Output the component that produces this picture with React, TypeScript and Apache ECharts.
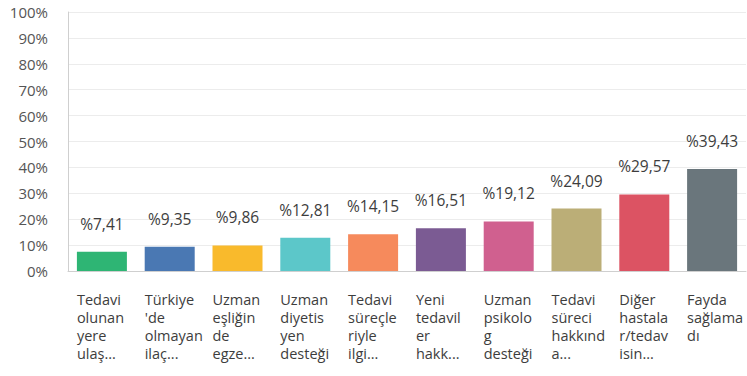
import React, { useEffect, useRef } from "react";
import * as echarts from "echarts";

const categories = [
  "Tedavi\nolunan\nyere\nulaş...",
  "Türkiye\n'de\nolmayan\nilaç...",
  "Uzman\neşliğin\nde\negze...",
  "Uzman\ndiyetis\nyen\ndesteği",
  "Tedavi\nsüreçle\nriyle\nilgi...",
  "Yeni\ntedavil\ner\nhakk...",
  "Uzman\npsikolo\ng\ndesteği",
  "Tedavi\nsüreci\nhakkınd\na...",
  "Diğer\nhastala\nr/tedav\nisin...",
  "Fayda\nsağlama\ndı",
];

const values = [7.41, 9.35, 9.86, 12.81, 14.15, 16.51, 19.12, 24.09, 29.57, 39.43];

const barColors = [
  "#2EB574",
  "#4A78B3",
  "#F9BA2C",
  "#5CC7C9",
  "#F68A5C",
  "#7B5B93",
  "#D0608F",
  "#BBAE77",
  "#DC5363",
  "#6A767C",
];

const yTicks = [0, 10, 20, 30, 40, 50, 60, 70, 80, 90, 100];

const FONT = "'Open Sans', 'Noto Sans', sans-serif";

export default function App() {
  const ref = useRef<HTMLDivElement>(null);

  useEffect(() => {
    document.body.style.margin = "0";
    if (!ref.current) return;
    const chart = echarts.init(ref.current, undefined, { renderer: "svg" });
    chart.setOption({
      animation: false,
      grid: { left: 68, right: 1, top: 12, bottom: 105, containLabel: false },
      xAxis: {
        type: "category",
        data: categories,
        axisLine: { lineStyle: { color: "#cfcfcf" } },
        axisTick: { show: false },
        axisLabel: {
          interval: 0,
          margin: 19,
          align: "center",
          formatter: (v: string) =>
            v
              .split("\n")
              .map((line) => "{t|" + line + "}")
              .join("\n"),
          rich: {
            t: {
              width: 50,
              align: "left",
              fontFamily: FONT,
              fontSize: 14.5,
              lineHeight: 18,
              color: "#3d3d3d",
            },
          },
        },
      },
      yAxis: {
        type: "value",
        min: yTicks[0],
        max: yTicks[yTicks.length - 1],
        interval: 10,
        axisLine: { show: true, lineStyle: { color: "#cfcfcf" } },
        axisTick: { show: false },
        splitLine: { lineStyle: { color: "#ececec" } },
        axisLabel: {
          margin: 20,
          formatter: (v: number) => v + "%",
          fontFamily: FONT,
          fontSize: 15,
          color: "#555",
        },
      },
      series: [
        {
          type: "bar",
          barWidth: 50,
          data: values.map((v, i) => ({
            value: v,
            itemStyle: { color: barColors[i] },
          })),
          label: {
            show: true,
            position: "top",
            distance: 20,
            formatter: (p: any) => "%" + p.value.toFixed(2).replace(".", ","),
            fontFamily: FONT,
            fontSize: 15.5,
            color: "#3d3d3d",
          },
        },
      ],
    });
    return () => chart.dispose();
  }, []);

  return <div ref={ref} style={{ width: 747, height: 376 }} />;
}
